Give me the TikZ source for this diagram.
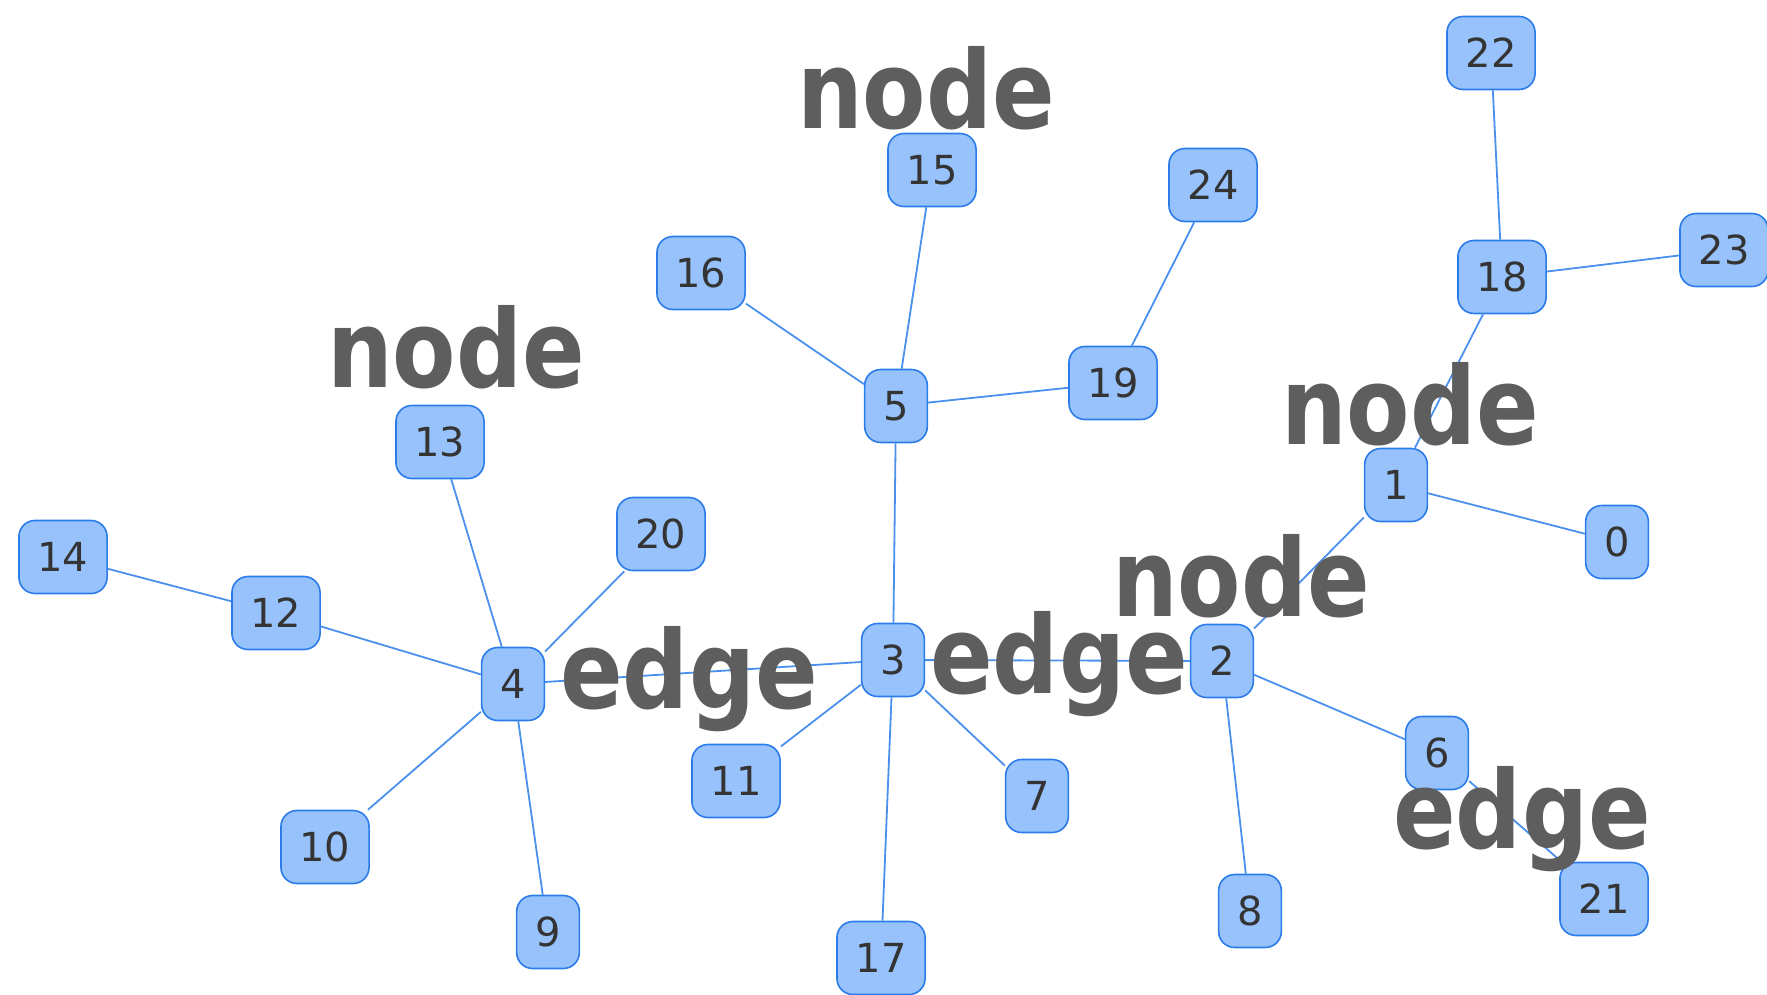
\documentclass[tikz,border=0pt]{standalone}
\usepackage{fontspec}
\setmainfont{DejaVu Sans}
\newfontfamily\tagfont[FakeStretch=0.855]{DejaVu Sans}
\usepackage{xcolor}
\definecolor{visfill}{HTML}{97C2FC}
\definecolor{visline}{HTML}{2B7CE9}
\definecolor{visedge}{HTML}{4A90EC}
\definecolor{vistext}{HTML}{343434}
\definecolor{taggray}{HTML}{5E5E5E}

\begin{document}
\begin{tikzpicture}[x=0.5pt,y=-0.5pt,
    box/.style={draw=visline,line width=0.8pt,fill=visfill,rounded corners=8pt,
      minimum width=30pt,minimum height=36.5pt,inner xsep=9.3pt,
      text=vistext,font=\fontsize{20pt}{24pt}\selectfont},
    link/.style={draw=visedge,line width=0.9pt},
    tag/.style={anchor=base,inner sep=0pt,text=taggray,
      font=\tagfont\bfseries\fontsize{54pt}{60pt}\selectfont}]
  \useasboundingbox (0,0) rectangle (1767,995);
  % the tree, node by node
  \node[box] (n0)  at (1617,542) {0};
  \node[box] (n1)  at (1396,485) {1};
  \node[box] (n2)  at (1222,661) {2};
  \node[box] (n3)  at (893,660)  {3};
  \node[box] (n4)  at (513,684)  {4};
  \node[box] (n5)  at (896,406)  {5};
  \node[box] (n6)  at (1437,753) {6};
  \node[box] (n7)  at (1037,796) {7};
  \node[box] (n8)  at (1250,911) {8};
  \node[box] (n9)  at (548,932)  {9};
  \node[box] (n10) at (325,847)  {10};
  \node[box] (n11) at (736,781)  {11};
  \node[box] (n12) at (276,613)  {12};
  \node[box] (n13) at (440,442)  {13};
  \node[box] (n14) at (63,557)   {14};
  \node[box] (n15) at (932,170)  {15};
  \node[box] (n16) at (701,273)  {16};
  \node[box] (n17) at (881,958)  {17};
  \node[box] (n18) at (1502,277) {18};
  \node[box] (n19) at (1113,383) {19};
  \node[box] (n20) at (661,534)  {20};
  \node[box] (n21) at (1604,899) {21};
  \node[box] (n22) at (1491,53)  {22};
  \node[box] (n23) at (1724,250) {23};
  \node[box] (n24) at (1213,185) {24};
  % links
  \foreach \a/\b in {0/1,1/2,1/18,18/22,18/23,2/3,2/6,2/8,6/21,3/4,3/5,3/7,3/11,3/17,
                     4/12,4/13,4/20,4/10,4/9,12/14,5/15,5/16,5/19,19/24}
    \draw[link] (n\a) -- (n\b);
  % free words on top
  \node[tag] (w1) at (926,129)  {node};
  \node[tag] (w2) at (456,387)  {node};
  \node[tag] (w3) at (1410,444) {node};
  \node[tag] (w4) at (1241,616) {node};
  \node[tag] (w5) at (689,708)  {edge};
  \node[tag] (w6) at (1059,693) {edge};
  \node[tag] (w7) at (1522,848) {edge};
\end{tikzpicture}
\end{document}
